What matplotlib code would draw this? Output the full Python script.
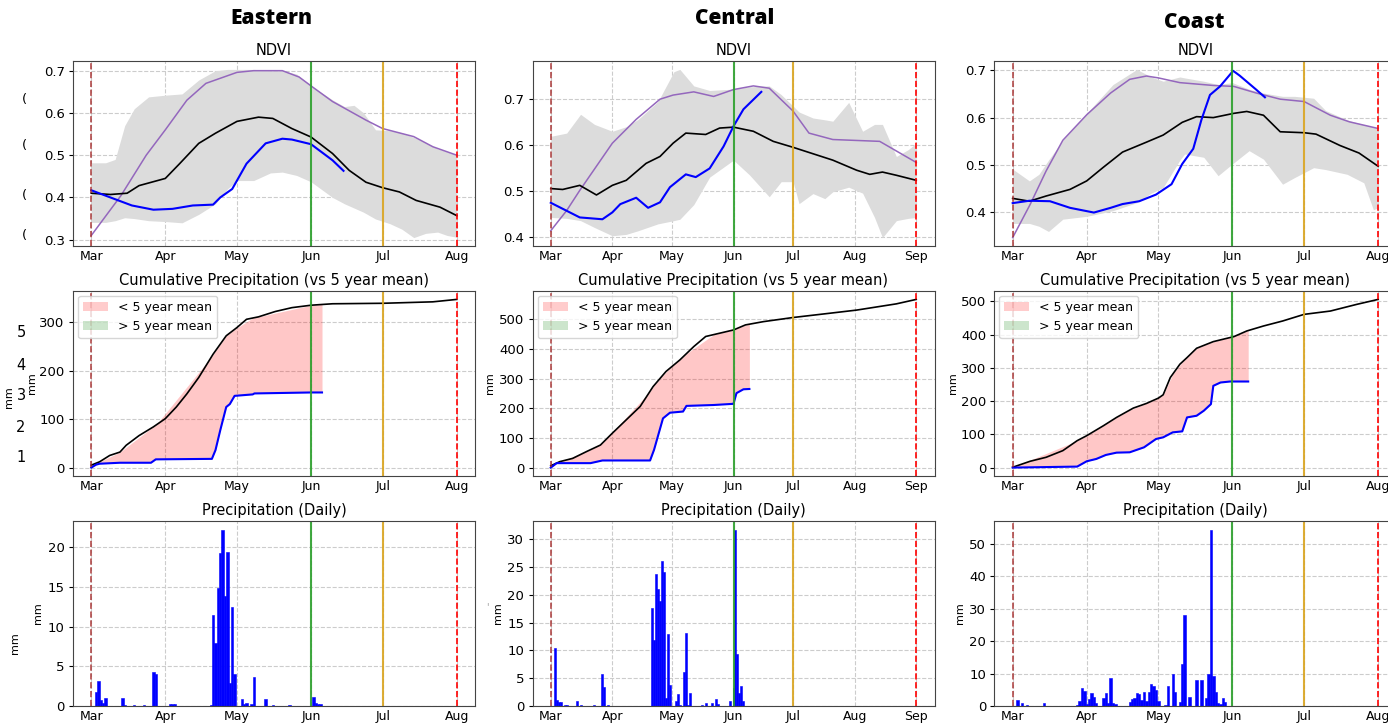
import numpy as np
import pandas as pd
import matplotlib
matplotlib.use("Agg")
import matplotlib.pyplot as plt
import matplotlib.dates as mdates
from matplotlib.patches import Patch

plt.rcParams['font.family'] = ['DejaVu Sans']

# ---------------- data (days are offsets from 1 March) ----------------
season_start = "2021-03-01"
regions = ["Eastern", "Central", "Coast"]
season_end = ["2021-08-01", "2021-09-01", "2021-08-01"]

# --- NDVI: Eastern ---
east_band_days = [0, 6, 10, 14, 18, 24, 31, 38, 45, 52, 57, 61, 68, 75, 80, 86, 92, 101, 106, 110, 114, 119, 125, 130, 135, 140, 145, 149, 153]
east_band_up = [0.482, 0.482, 0.49, 0.57, 0.61, 0.638, 0.642, 0.645, 0.678, 0.70, 0.703, 0.703, 0.703, 0.70, 0.70, 0.692, 0.664, 0.631, 0.615, 0.618, 0.60, 0.56, 0.558, 0.553, 0.542, 0.53, 0.515, 0.508, 0.50]
east_band_lo = [0.341, 0.341, 0.345, 0.352, 0.35, 0.345, 0.343, 0.34, 0.36, 0.385, 0.42, 0.44, 0.44, 0.458, 0.46, 0.452, 0.437, 0.40, 0.385, 0.375, 0.365, 0.349, 0.338, 0.325, 0.305, 0.315, 0.318, 0.31, 0.306]
east_purple_days = [0, 12.5, 23, 31, 40, 48, 61, 68, 80, 87, 92, 101, 115, 122, 135, 143, 153]
east_purple = [0.31, 0.405, 0.50, 0.56, 0.63, 0.67, 0.696, 0.70, 0.70, 0.685, 0.664, 0.627, 0.583, 0.563, 0.544, 0.52, 0.50]
east_mean_days = [0, 8, 15, 20, 31, 37, 45, 52, 61, 70, 76, 84, 92, 101, 108, 115, 122, 129, 136, 146, 153]
east_mean = [0.41, 0.407, 0.41, 0.428, 0.445, 0.48, 0.528, 0.552, 0.58, 0.59, 0.587, 0.563, 0.543, 0.504, 0.464, 0.436, 0.423, 0.413, 0.393, 0.377, 0.357]
east_cur_days = [0, 8, 17, 26, 34, 42.5, 51, 54, 59, 65, 73, 80, 84, 92, 101, 105.6]
east_cur = [0.417, 0.40, 0.381, 0.371, 0.373, 0.381, 0.383, 0.40, 0.42, 0.48, 0.528, 0.539, 0.537, 0.526, 0.488, 0.463]

# --- NDVI: Central ---
cent_band_days = [0, 8, 15, 22, 31, 38, 44, 54, 62, 65, 72, 80, 92, 100, 110, 116, 122, 125, 132, 138, 142, 150, 157, 163, 167, 174, 180, 184]
cent_band_up = [0.619, 0.626, 0.667, 0.645, 0.630, 0.64, 0.656, 0.695, 0.76, 0.765, 0.729, 0.719, 0.722, 0.727, 0.729, 0.71, 0.685, 0.672, 0.659, 0.655, 0.652, 0.693, 0.63, 0.645, 0.645, 0.575, 0.59, 0.604]
cent_band_lo = [0.442, 0.44, 0.435, 0.42, 0.402, 0.405, 0.413, 0.428, 0.435, 0.438, 0.47, 0.53, 0.567, 0.535, 0.487, 0.52, 0.52, 0.472, 0.494, 0.483, 0.498, 0.508, 0.495, 0.442, 0.398, 0.435, 0.44, 0.442]
cent_purple_days = [0, 8, 14.6, 31, 43, 55, 61.6, 72, 82, 92, 102, 110, 122, 130, 142, 165.6, 184]
cent_purple = [0.413, 0.457, 0.501, 0.604, 0.656, 0.70, 0.709, 0.716, 0.706, 0.721, 0.729, 0.724, 0.674, 0.626, 0.612, 0.608, 0.562]
cent_mean_days = [0, 6, 14.6, 23, 31, 38, 48, 55, 61.6, 68, 78, 85, 92, 102, 112, 122, 132, 142, 154, 160.6, 167, 174, 184]
cent_mean = [0.505, 0.503, 0.512, 0.491, 0.512, 0.523, 0.560, 0.575, 0.604, 0.626, 0.623, 0.637, 0.639, 0.630, 0.608, 0.595, 0.581, 0.567, 0.545, 0.536, 0.541, 0.534, 0.523]
cent_cur_days = [0, 14.6, 26, 31, 35, 43, 49, 55, 60, 68, 73, 80, 87, 92, 97, 106]
cent_cur = [0.474, 0.442, 0.438, 0.453, 0.471, 0.485, 0.463, 0.475, 0.508, 0.536, 0.530, 0.549, 0.597, 0.641, 0.678, 0.716]

# --- NDVI: Coast ---
coast_band_days = [0, 7, 11, 15, 21, 31, 42, 52, 58, 63, 70, 72, 80, 86, 92, 99, 105, 113, 118, 126, 131, 140, 147, 151, 153]
coast_band_up = [0.491, 0.466, 0.48, 0.51, 0.552, 0.609, 0.67, 0.702, 0.686, 0.677, 0.686, 0.684, 0.677, 0.67, 0.674, 0.66, 0.652, 0.645, 0.645, 0.641, 0.615, 0.595, 0.585, 0.58, 0.577]
coast_band_lo = [0.376, 0.376, 0.37, 0.359, 0.385, 0.391, 0.403, 0.42, 0.44, 0.452, 0.51, 0.523, 0.516, 0.477, 0.502, 0.53, 0.512, 0.459, 0.473, 0.494, 0.49, 0.48, 0.462, 0.405, 0.409]
coast_purple_days = [0, 7.3, 14, 21, 31, 41, 49, 56, 61, 70, 84, 92.6, 102, 112, 122, 133, 141, 153]
coast_purple = [0.346, 0.416, 0.487, 0.552, 0.606, 0.652, 0.681, 0.688, 0.684, 0.674, 0.668, 0.666, 0.652, 0.639, 0.634, 0.605, 0.591, 0.577]
coast_mean_days = [0, 7, 14, 24, 31, 38, 46, 56, 63, 71, 77, 84, 92.6, 98, 105, 112, 122, 127, 137, 145, 153]
coast_mean = [0.429, 0.423, 0.434, 0.448, 0.466, 0.495, 0.527, 0.548, 0.563, 0.590, 0.602, 0.60, 0.609, 0.613, 0.605, 0.570, 0.568, 0.565, 0.541, 0.525, 0.497]
coast_cur_days = [0, 7, 15.6, 24, 34, 41, 46, 53, 60, 66.5, 71, 75.6, 79, 82.6, 86.8, 92.3, 95, 102, 105.6]
coast_cur = [0.419, 0.424, 0.423, 0.409, 0.399, 0.409, 0.417, 0.423, 0.437, 0.459, 0.502, 0.534, 0.595, 0.648, 0.666, 0.699, 0.689, 0.659, 0.643]

# --- Cumulative precipitation (mm) ---
east_cmean_days = [0, 3.5, 7.7, 12, 14.6, 20, 26, 31, 35.6, 40, 45, 51, 56.5, 61, 65, 70, 77, 84, 92, 101, 122, 143, 153]
east_cmean = [5, 12, 25, 32, 46, 66, 84, 101, 125, 152, 186, 234, 272, 289, 306, 311, 322, 330, 335, 338, 339, 342, 347]
east_ccur_days = [0, 2, 3.5, 12, 25, 27, 50.5, 52, 54, 56.5, 58, 60, 67.6, 68.3, 92, 96.6]
east_ccur = [0, 6, 8, 10, 10, 17, 18, 36, 77, 125, 131, 148, 151, 153, 155, 155]

cent_cmean_days = [0, 4.5, 11, 18, 25, 31, 38, 45, 51.5, 58, 65, 72, 78, 85, 92, 98, 107, 122, 140, 154, 174, 184]
cent_cmean = [6, 20, 31, 54, 76, 116, 161, 206, 273, 324, 363, 408, 442, 453, 464, 481, 492, 506, 520, 531, 552, 567]
cent_ccur_days = [0, 3, 20, 26, 50, 52, 56.5, 60, 66.6, 68.3, 82, 92, 93.5, 97, 100]
cent_ccur = [0, 15, 15, 24, 24, 60, 166, 185, 189, 208, 211, 215, 251, 264, 265]

coast_cmean_days = [0, 7.3, 14, 21, 27, 31, 38, 43.5, 50.5, 56, 61, 63, 66, 70, 73, 77, 84, 92.6, 98, 105, 113, 122, 133, 144, 153]
coast_cmean = [1, 19, 31, 51, 81, 96, 126, 151, 179, 193, 209, 219, 271, 311, 331, 359, 379, 394, 411, 426, 441, 461, 471, 491, 506]
coast_ccur_days = [0, 27, 31, 35, 39, 43.5, 49, 55, 60, 63, 67, 71, 73, 77, 80, 83, 84, 87, 91, 98.6]
coast_ccur = [0, 3, 19, 26, 38, 45, 46, 61, 86, 91, 106, 109, 151, 156, 171, 191, 246, 256, 259, 259]

# --- Daily precipitation (mm) ---
east_rain_days = [2, 3, 4, 5, 6, 13, 14, 18, 22, 26, 27, 33, 34, 35, 50, 51, 52, 53, 54, 55, 56, 57, 58, 59, 60, 63, 64, 65, 67, 68, 73, 76, 83, 93, 94, 95, 96]
east_rain = [1.8, 3.2, 0.8, 0.4, 1.05, 1.05, 0.15, 0.1, 0.1, 4.25, 4.0, 0.25, 0.3, 0.3, 0.15, 11.5, 7.9, 14.9, 19.3, 22.2, 13.8, 19.4, 2.9, 12.5, 4.0, 0.9, 0.2, 0.4, 0.25, 3.6, 0.9, 0.15, 0.1, 1.15, 0.4, 0.3, 0.25]
cent_rain_days = [2, 3, 4, 5, 7, 8, 13, 15, 22, 26, 27, 29, 51, 52, 53, 54, 55, 56, 57, 58, 59, 60, 63, 64, 65, 67, 68, 69, 70, 76, 78, 81, 83, 84, 90, 92, 93, 94, 95, 96, 97]
cent_rain = [10.5, 1.1, 0.65, 0.65, 0.2, 0.2, 0.9, 0.25, 0.25, 5.75, 3.4, 0.15, 17.7, 11.9, 23.8, 21.1, 18.9, 26.0, 24.1, 1.45, 12.9, 3.8, 0.85, 2.15, 0.25, 6.05, 13.05, 0.25, 2.35, 0.25, 0.5, 0.5, 1.2, 0.35, 0.85, 3.25, 31.7, 9.3, 2.4, 3.6, 0.95]
coast_rain_days = [2, 4, 6, 13, 27, 28, 29, 30, 31, 32, 33, 34, 35, 38, 39, 40, 41, 42, 43, 49, 50, 51, 52, 53, 54, 55, 56, 57, 58, 59, 60, 61, 64, 65, 67, 68, 70, 71, 72, 74, 77, 79, 81, 82, 83, 84, 85, 86, 87, 88, 89]
coast_rain = [1.95, 1.0, 0.4, 1.0, 0.4, 1.5, 5.6, 4.6, 0.5, 2.25, 4.0, 2.8, 1.0, 2.55, 4.0, 1.0, 8.6, 1.0, 0.7, 1.2, 2.25, 2.55, 4.1, 3.8, 1.75, 4.3, 1.5, 4.3, 6.9, 6.05, 5.0, 1.45, 0.4, 6.15, 9.95, 4.3, 1.1, 12.8, 27.9, 2.8, 7.9, 7.9, 2.55, 9.95, 54.3, 9.25, 4.3, 1.0, 0.5, 2.45, 1.2]

legend_labels = ["< 5 year mean", "> 5 year mean"]

ndvi_data = [
    (east_band_days, east_band_up, east_band_lo, east_purple_days, east_purple, east_mean_days, east_mean, east_cur_days, east_cur),
    (cent_band_days, cent_band_up, cent_band_lo, cent_purple_days, cent_purple, cent_mean_days, cent_mean, cent_cur_days, cent_cur),
    (coast_band_days, coast_band_up, coast_band_lo, coast_purple_days, coast_purple, coast_mean_days, coast_mean, coast_cur_days, coast_cur),
]
cum_data = [
    (east_cmean_days, east_cmean, east_ccur_days, east_ccur),
    (cent_cmean_days, cent_cmean, cent_ccur_days, cent_ccur),
    (coast_cmean_days, coast_cmean, coast_ccur_days, coast_ccur),
]
rain_data = [(east_rain_days, east_rain), (cent_rain_days, cent_rain), (coast_rain_days, coast_rain)]

# ---------------- helpers ----------------
t0 = pd.Timestamp(season_start)


def to_dates(days):
    return [t0 + pd.Timedelta(days=float(d)) for d in days]


def decorate(ax, end, title):
    s = mdates.date2num(t0)
    e = mdates.date2num(pd.Timestamp(end))
    span = e - s
    ax.set_xlim(s - 0.05 * span, e + 0.05 * span)
    ax.axvline(t0, color='brown', linestyle='--', lw=1.2, alpha=0.85)
    ax.axvline(pd.Timestamp("2021-06-01"), color='tab:green', lw=1.5, alpha=0.9)
    ax.axvline(pd.Timestamp("2021-07-01"), color='goldenrod', lw=1.5, alpha=0.9)
    ax.axvline(pd.Timestamp(end), color='red', linestyle='--', lw=1.2)
    ax.xaxis.set_major_locator(mdates.MonthLocator())
    ax.xaxis.set_major_formatter(mdates.DateFormatter('%b'))
    ax.grid(True, linestyle='--', color='#cccccc', lw=0.8)
    ax.set_axisbelow(True)
    ax.tick_params(axis='y', labelsize=9.5, length=3, pad=3)
    ax.tick_params(axis='x', labelsize=9, length=0, pad=3)
    ax.set_title(title, fontsize=10.5, pad=4)
    for sp in ax.spines.values():
        sp.set_color('#444444')


# ---------------- figure ----------------
fig = plt.figure(figsize=(13.88, 7.25), dpi=100)
W, H = 1388.0, 725.0
col_left = [73, 532.5, 994.4]
col_w = 402.0
row_top = [61, 291, 521]
row_h = 185.0
cum_label_x = [-0.09, -0.093, -0.09]
day_label_x = [-0.075, -0.073, -0.073]

for c in range(3):
    axes = []
    for r in range(3):
        l = col_left[c] / W
        b = 1 - (row_top[r] + row_h) / H
        axes.append(fig.add_axes([l, b, col_w / W, row_h / H]))
    a1, a2, a3 = axes

    bd, bu, bl, pd_, pv, md, mv, cd, cv = ndvi_data[c]
    a1.fill_between(to_dates(bd), bl, bu, color='#dcdcdc', lw=0)
    a1.plot(to_dates(pd_), pv, color='tab:purple', lw=1.1)
    a1.plot(to_dates(md), mv, color='black', lw=1.2)
    a1.plot(to_dates(cd), cv, color='blue', lw=1.5)
    decorate(a1, season_end[c], "NDVI")

    cmd, cmv, ccd, ccv = cum_data[c]
    a2.plot(to_dates(cmd), cmv, color='black', lw=1.2)
    a2.plot(to_dates(ccd), ccv, color='blue', lw=1.5)
    fill_x = np.array(ccd, dtype=float)
    mean_at = np.interp(fill_x, cmd, cmv)
    a2.fill_between(to_dates(fill_x), ccv, mean_at, where=np.array(ccv) <= mean_at,
                    color='red', alpha=0.22, lw=0)
    a2.fill_between(to_dates(fill_x), ccv, mean_at, where=np.array(ccv) > mean_at,
                    color='green', alpha=0.22, lw=0)
    decorate(a2, season_end[c], "Cumulative Precipitation (vs 5 year mean)")
    a2.set_ylabel("mm", fontsize=8)
    a2.yaxis.set_label_coords(cum_label_x[c], 0.5)
    handles = [Patch(facecolor='red', alpha=0.2, label=legend_labels[0]),
               Patch(facecolor='green', alpha=0.2, label=legend_labels[1])]
    a2.legend(handles=handles, loc='upper left', fontsize=9, borderaxespad=0.4)

    rd, rv = rain_data[c]
    a3.bar(to_dates(rd), rv, width=1.0, color='blue', edgecolor='blue', lw=0.4)
    decorate(a3, season_end[c], "Precipitation (Daily)")
    a3.set_ylabel("mm", fontsize=8)
    a3.yaxis.set_label_coords(day_label_x[c], 0.5)

# column titles
title_x = [271, 735, 1194]
title_y = [19, 18, 23]
for name, x, y in zip(regions, title_x, title_y):
    fig.text(x / W, 1 - y / H, name, ha='center', va='center', fontsize=15,
             fontweight=800, family='Open Sans')

# stray fragments along the left edge of the reference
for y in [100, 146, 195, 236]:
    fig.text(24 / W, 1 - y / H, "(", ha='center', va='center', fontsize=9.5)
for y, s in zip([333, 365, 396, 427, 458], ["5", "4", "3", "2", "1"]):
    fig.text(21 / W, 1 - y / H, s, ha='center', va='center', fontsize=10.5)
fig.text(9 / W, 1 - 397 / H, "mm", rotation=90, ha='center', va='center', fontsize=8)
fig.text(15 / W, 1 - 643 / H, "mm", rotation=90, ha='center', va='center', fontsize=8)
fig.text(487 / W, 1 - 607 / H, "'", ha='center', va='center', fontsize=7, color='#999999')

fig.savefig("out.png", dpi=100)
